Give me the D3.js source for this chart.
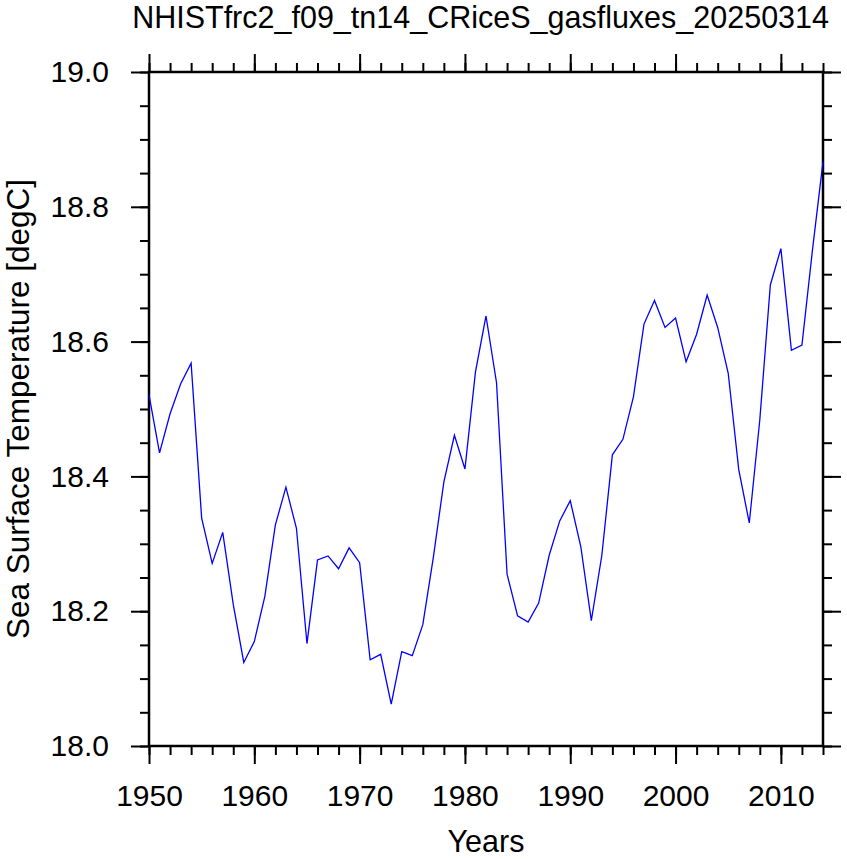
<!DOCTYPE html>
<html>
<head>
<meta charset="utf-8">
<script src="https://cdn.jsdelivr.net/npm/d3@7"></script>
<style>
  body { margin: 0; background: #fff; }
  text { font-family: "Liberation Sans", Arial, Helvetica, sans-serif; fill: #000; }
  .domain { display: none; }
</style>
</head>
<body>
<div id="chart"></div>
<script>
//svg size
var svgWidth = 847;
var svgHeight = 859;
var margin = { top: 72, bottom: 113, right: 24, left: 149 };

//chart size
var chartWidth = svgWidth - margin.left - margin.right;
var chartHeight = svgHeight - margin.top - margin.bottom;

//data
var years = d3.range(1950, 2015);
var sst = [
  18.521, 18.435, 18.493, 18.537, 18.568, 18.338, 18.271, 18.317, 18.210, 18.124,
  18.155, 18.222, 18.328, 18.384, 18.323, 18.152, 18.276, 18.282, 18.263, 18.294,
  18.272, 18.128, 18.136, 18.062, 18.140, 18.134, 18.180, 18.280, 18.392, 18.461,
  18.411, 18.555, 18.638, 18.539, 18.255, 18.193, 18.184, 18.212, 18.283, 18.334,
  18.364, 18.296, 18.186, 18.283, 18.432, 18.455, 18.518, 18.626, 18.661, 18.621,
  18.635, 18.570, 18.611, 18.669, 18.621, 18.553, 18.410, 18.331, 18.484, 18.684,
  18.738, 18.587, 18.595, 18.736, 18.867
];
var xMajor = [1950, 1960, 1970, 1980, 1990, 2000, 2010];
var xMinor = d3.range(1950, 2015, 2);
var yMajor = [18.0, 18.2, 18.4, 18.6, 18.8, 19.0];
var yMinor = d3.range(0, 21).map(i => 18 + i * 0.05);

var titleText = "NHISTfrc2_f09_tn14_CRiceS_gasfluxes_20250314";
var xLabel = "Years";
var yLabel = "Sea Surface Temperature [degC]";

var svg = d3.select("#chart")
  .append("svg")
  .attr("width", svgWidth)
  .attr("height", svgHeight);

var chartGroup = svg.append("g")
  .attr("transform", `translate(${margin.left}, ${margin.top})`);

//scales
var xScale = d3.scaleLinear().domain([1950, 2014]).range([0, chartWidth]);
var yScale = d3.scaleLinear().domain([18, 19]).range([chartHeight, 0]);

var majorLen = 18, minorLen = 9;

function styleTicks(g) {
  g.selectAll(".tick line").attr("stroke", "#000").attr("stroke-width", 2);
}

//bottom axis
chartGroup.append("g")
  .attr("transform", `translate(0, ${chartHeight})`)
  .call(d3.axisBottom(xScale).tickValues(xMinor).tickSize(minorLen).tickSizeOuter(0).tickFormat(""))
  .call(styleTicks);
var xb = chartGroup.append("g")
  .attr("transform", `translate(0, ${chartHeight})`)
  .call(d3.axisBottom(xScale).tickValues(xMajor).tickSize(majorLen).tickSizeOuter(0).tickPadding(21).tickFormat(d3.format("d")))
  .call(styleTicks);
xb.selectAll(".tick text").attr("font-size", 30).attr("dy", "0.71em");

//top axis
chartGroup.append("g")
  .call(d3.axisTop(xScale).tickValues(xMinor).tickSize(minorLen).tickSizeOuter(0).tickFormat(""))
  .call(styleTicks);
chartGroup.append("g")
  .call(d3.axisTop(xScale).tickValues(xMajor).tickSize(majorLen).tickSizeOuter(0).tickFormat(""))
  .call(styleTicks);

//left axis
chartGroup.append("g")
  .call(d3.axisLeft(yScale).tickValues(yMinor).tickSize(minorLen).tickSizeOuter(0).tickFormat(""))
  .call(styleTicks);
var yl = chartGroup.append("g")
  .call(d3.axisLeft(yScale).tickValues(yMajor).tickSize(majorLen).tickSizeOuter(0).tickPadding(22).tickFormat(d3.format(".1f")))
  .call(styleTicks);
yl.selectAll(".tick text").attr("font-size", 30);

//right axis
chartGroup.append("g")
  .attr("transform", `translate(${chartWidth}, 0)`)
  .call(d3.axisRight(yScale).tickValues(yMinor).tickSize(minorLen).tickSizeOuter(0).tickFormat(""))
  .call(styleTicks);
chartGroup.append("g")
  .attr("transform", `translate(${chartWidth}, 0)`)
  .call(d3.axisRight(yScale).tickValues(yMajor).tickSize(majorLen).tickSizeOuter(0).tickFormat(""))
  .call(styleTicks);

//frame
chartGroup.append("rect")
  .attr("x", 0).attr("y", 0)
  .attr("width", chartWidth).attr("height", chartHeight)
  .attr("fill", "none")
  .attr("stroke", "#000")
  .attr("stroke-width", 2.5);

//line
var line = d3.line()
  .x((d, i) => xScale(years[i]))
  .y(d => yScale(d));
chartGroup.append("path")
  .datum(sst)
  .attr("d", line)
  .attr("fill", "none")
  .attr("stroke", "#0000ff")
  .attr("stroke-width", 1.3)
  .attr("stroke-linejoin", "miter");

//labels
svg.append("text")
  .attr("x", 829)
  .attr("y", 28)
  .attr("text-anchor", "end")
  .attr("font-size", 30.5)
  .text(titleText);

svg.append("text")
  .attr("x", margin.left + chartWidth / 2)
  .attr("y", 852)
  .attr("text-anchor", "middle")
  .attr("font-size", 30.5)
  .text(xLabel);

svg.append("text")
  .attr("transform", `translate(28.5, ${margin.top + chartHeight / 2}) rotate(-90)`)
  .attr("text-anchor", "middle")
  .attr("font-size", 31.5)
  .text(yLabel);
</script>
</body>
</html>
